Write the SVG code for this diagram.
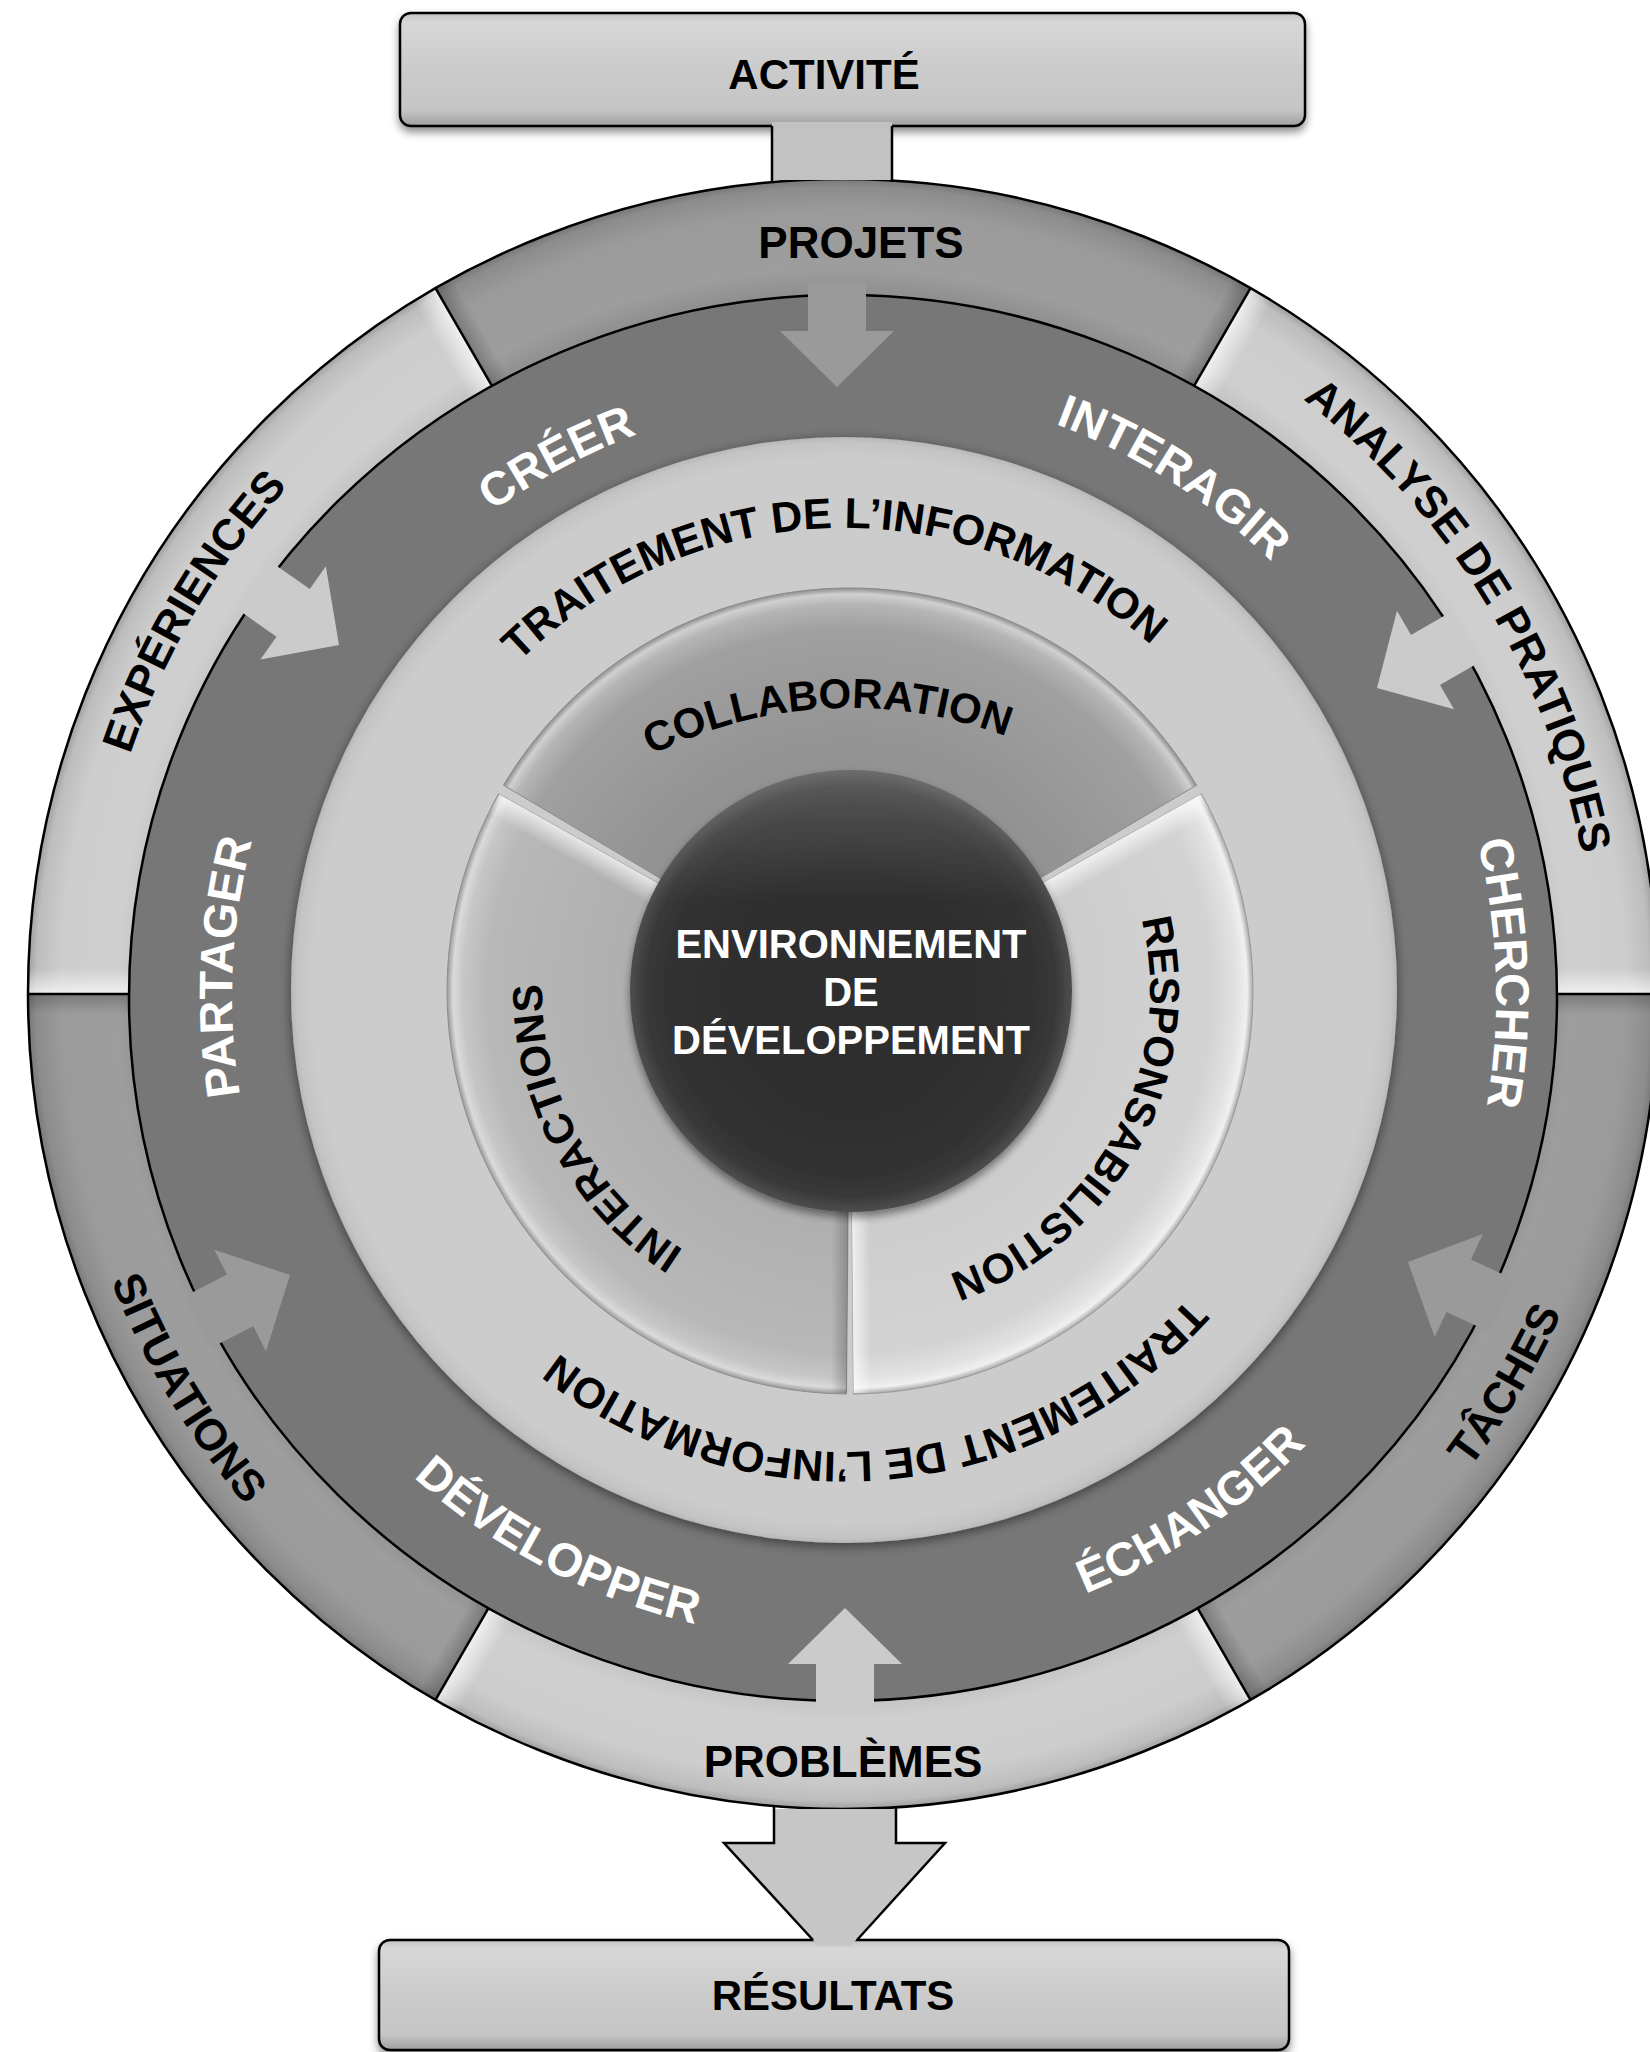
<svg xmlns="http://www.w3.org/2000/svg" width="1650" height="2052" viewBox="0 0 1650 2052">
<defs>
<style>
.t{font-family:'Liberation Sans',Arial,Helvetica,sans-serif;font-weight:700}
.ob{fill:#000;font-size:44px}
.dw{fill:#fff;font-size:47px}
.lt{fill:#000;font-size:43px}
.in{fill:#000;font-size:42px}
.cw{fill:#fff;font-size:40px;text-anchor:middle}
.bx{fill:#000;font-size:42px;text-anchor:middle}
.edge{stroke:#000;stroke-width:2.5;fill:none}
.awl{fill:#cbcbcb}
.awd{fill:#9a9a9a}
</style>
<linearGradient id="gbox" x1="0" y1="0" x2="0" y2="1">
<stop offset="0" stop-color="#c2c2c2"/><stop offset="0.08" stop-color="#d7d7d7"/><stop offset="0.5" stop-color="#cbcbcb"/><stop offset="0.86" stop-color="#c5c5c5"/><stop offset="1" stop-color="#9e9e9e"/>
</linearGradient>
<radialGradient id="gol" gradientUnits="userSpaceOnUse" cx="843" cy="994" r="815">
<stop offset="0.86" stop-color="#c2c2c2"/><stop offset="0.89" stop-color="#cfcfcf"/><stop offset="0.96" stop-color="#cdcdcd"/><stop offset="0.99" stop-color="#bdbdbd"/><stop offset="1" stop-color="#a0a0a0"/>
</radialGradient>
<radialGradient id="god" gradientUnits="userSpaceOnUse" cx="843" cy="994" r="815">
<stop offset="0.86" stop-color="#8f8f8f"/><stop offset="0.89" stop-color="#9d9d9d"/><stop offset="0.96" stop-color="#9b9b9b"/><stop offset="0.99" stop-color="#8c8c8c"/><stop offset="1" stop-color="#787878"/>
</radialGradient>
<radialGradient id="glr" gradientUnits="userSpaceOnUse" cx="844" cy="990" r="553">
<stop offset="0" stop-color="#cbcbcb"/><stop offset="0.96" stop-color="#cccccc"/><stop offset="0.99" stop-color="#c4c4c4"/><stop offset="1" stop-color="#b8b8b8"/>
</radialGradient>
<radialGradient id="gcoll" gradientUnits="userSpaceOnUse" cx="850" cy="991" r="403">
<stop offset="0" stop-color="#8a8a8a"/><stop offset="0.6" stop-color="#939393"/><stop offset="0.9" stop-color="#a0a0a0"/><stop offset="0.96" stop-color="#b5b5b5"/><stop offset="0.985" stop-color="#d0d0d0"/><stop offset="1" stop-color="#8e8e8e"/>
</radialGradient>
<radialGradient id="gresp" gradientUnits="userSpaceOnUse" cx="850" cy="991" r="403">
<stop offset="0" stop-color="#c8c8c8"/><stop offset="0.6" stop-color="#cdcdcd"/><stop offset="0.9" stop-color="#d3d3d3"/><stop offset="0.96" stop-color="#e2e2e2"/><stop offset="0.985" stop-color="#f0f0f0"/><stop offset="1" stop-color="#a9a9a9"/>
</radialGradient>
<radialGradient id="gint" gradientUnits="userSpaceOnUse" cx="850" cy="991" r="403">
<stop offset="0" stop-color="#a8a8a8"/><stop offset="0.6" stop-color="#b0b0b0"/><stop offset="0.9" stop-color="#b8b8b8"/><stop offset="0.96" stop-color="#c6c6c6"/><stop offset="0.985" stop-color="#dadada"/><stop offset="1" stop-color="#9a9a9a"/>
</radialGradient>
<radialGradient id="gcen" cx="0.5" cy="0.5" r="0.5">
<stop offset="0" stop-color="#2d2d2d"/><stop offset="0.8" stop-color="#303030"/><stop offset="0.93" stop-color="#393939"/><stop offset="1" stop-color="#4e4e4e"/>
</radialGradient>
<linearGradient id="ghl" x1="0" y1="0" x2="0" y2="1">
<stop offset="0" stop-color="#fff" stop-opacity="0.18"/><stop offset="0.3" stop-color="#fff" stop-opacity="0"/>
</linearGradient>
<linearGradient id="hlR" x1="0" y1="0" x2="1" y2="0">
<stop offset="0" stop-color="#fff" stop-opacity="0.7"/><stop offset="1" stop-color="#fff" stop-opacity="0"/>
</linearGradient>
<linearGradient id="hlL" x1="1" y1="0" x2="0" y2="0">
<stop offset="0" stop-color="#fff" stop-opacity="0.7"/><stop offset="1" stop-color="#fff" stop-opacity="0"/>
</linearGradient>
<linearGradient id="dkR" x1="0" y1="0" x2="1" y2="0">
<stop offset="0" stop-color="#000" stop-opacity="0.22"/><stop offset="1" stop-color="#000" stop-opacity="0"/>
</linearGradient>
<linearGradient id="dkL" x1="1" y1="0" x2="0" y2="0">
<stop offset="0" stop-color="#000" stop-opacity="0.22"/><stop offset="1" stop-color="#000" stop-opacity="0"/>
</linearGradient>
<filter id="sh" x="-10%" y="-20%" width="120%" height="150%">
<feDropShadow dx="0" dy="5" stdDeviation="4" flood-color="#000" flood-opacity="0.45"/>
</filter>
<filter id="rsh" x="-5%" y="-5%" width="110%" height="112%">
<feDropShadow dx="0" dy="3" stdDeviation="6" flood-color="#000" flood-opacity="0.5"/>
</filter>
<path id="arr" d="M0,0 L57,-56 L29,-56 L29,-104 L-29,-104 L-29,-56 L-57,-56 Z"/>
<path id="p-analyse" d="M823.3,242.3 A752,752 0 0 1 1503.9,1352.8"/>
<path id="p-exp" d="M188.5,1364.3 A752,752 0 0 1 849.6,242.0"/>
<path id="p-sit" d="M155.5,612.9 A786,786 0 0 0 856.7,1779.9"/>
<path id="p-tach" d="M836.1,1780.0 A786,786 0 0 0 1527.1,607.0"/>
<path id="p-creer" d="M245.4,975.1 A598,598 0 0 1 1159.9,488.9"/>
<path id="p-inter" d="M561.3,454.9 A610,610 0 0 1 1452.4,1022.6"/>
<path id="p-cherch" d="M1149.6,419.4 A653,653 0 0 1 1189.0,1549.8"/>
<path id="p-echang" d="M560.3,1575.7 A645,645 0 0 0 1486.4,951.0"/>
<path id="p-devel" d="M198.6,1024.1 A645,645 0 0 0 1189.6,1540.0"/>
<path id="p-partag" d="M512.9,1510.2 A611,611 0 0 1 562.8,453.1"/>
<path id="p-trt1" d="M394.8,882.1 A462,462 0 0 1 1287.0,858.8"/>
<path id="p-trt2" d="M1299.0,1070.2 A462,462 0 0 1 409.9,1148.0"/>
<path id="p-coll" d="M548.6,826.7 A442,442 0 0 1 1116.0,797.0"/>
<path id="p-resp" d="M1105.8,834.2 A300,300 0 0 1 857.9,1290.9"/>
<path id="p-intc" d="M839.3,1298.8 A308,308 0 0 1 588.8,827.8"/>
</defs>

<g id="node-activite">
<rect x="400" y="13" width="905" height="113" rx="11" fill="url(#gbox)" stroke="#000" stroke-width="2.5" filter="url(#sh)"/>
<text class="t bx" x="824" y="89">ACTIVITÉ</text>
</g>

<g id="node-resultats">
<rect x="379" y="1940" width="910" height="110" rx="11" fill="url(#gbox)" stroke="#000" stroke-width="2.5" filter="url(#sh)"/>
<text class="t bx" x="833" y="2010">RÉSULTATS</text>
</g>

<g id="node-projets">
<path d="M843,994 L435.5,288.2 A815,815 0 0 1 1250.5,288.2 Z" fill="url(#god)"/>
<text class="t ob" x="861" y="258" text-anchor="middle" font-size="42">PROJETS</text>
</g>
<g id="node-analyse">
<path d="M843,994 L1250.5,288.2 A815,815 0 0 1 1658,994 Z" fill="url(#gol)"/>
<text class="t ob"><textPath href="#p-analyse" startOffset="50%" text-anchor="middle">ANALYSE DE PRATIQUES</textPath></text>
</g>
<g id="node-taches">
<path d="M843,994 L1658,994 A815,815 0 0 1 1250.5,1699.8 Z" fill="url(#god)"/>
<text class="t ob"><textPath href="#p-tach" startOffset="50%" text-anchor="middle">TÂCHES</textPath></text>
</g>
<g id="node-problemes">
<path d="M843,994 L1250.5,1699.8 A815,815 0 0 1 435.5,1699.8 Z" fill="url(#gol)"/>
<text class="t ob" x="843" y="1777" text-anchor="middle" font-size="42">PROBLÈMES</text>
</g>
<g id="node-situations">
<path d="M843,994 L435.5,1699.8 A815,815 0 0 1 28,994 Z" fill="url(#god)"/>
<text class="t ob"><textPath href="#p-sit" startOffset="50%" text-anchor="middle">SITUATIONS</textPath></text>
</g>
<g id="node-experiences">
<path d="M843,994 L28,994 A815,815 0 0 1 435.5,288.2 Z" fill="url(#gol)"/>
<text class="t ob"><textPath href="#p-exp" startOffset="50%" text-anchor="middle">EXPÉRIENCES</textPath></text>
</g>

<g id="outer-ring-bevels">
<g transform="translate(843,994) rotate(30)"><rect x="0" y="-814" width="26" height="120" fill="url(#hlR)"/><rect x="-20" y="-814" width="20" height="120" fill="url(#dkL)"/></g>
<g transform="translate(843,994) rotate(90)"><rect x="-26" y="-814" width="26" height="120" fill="url(#hlL)"/><rect x="0" y="-814" width="20" height="120" fill="url(#dkR)"/></g>
<g transform="translate(843,994) rotate(150)"><rect x="0" y="-814" width="26" height="120" fill="url(#hlR)"/><rect x="-20" y="-814" width="20" height="120" fill="url(#dkL)"/></g>
<g transform="translate(843,994) rotate(210)"><rect x="-26" y="-814" width="26" height="120" fill="url(#hlL)"/><rect x="0" y="-814" width="20" height="120" fill="url(#dkR)"/></g>
<g transform="translate(843,994) rotate(270)"><rect x="0" y="-814" width="26" height="120" fill="url(#hlR)"/><rect x="-20" y="-814" width="20" height="120" fill="url(#dkL)"/></g>
<g transform="translate(843,994) rotate(330)"><rect x="-26" y="-814" width="26" height="120" fill="url(#hlL)"/><rect x="0" y="-814" width="20" height="120" fill="url(#dkR)"/></g>
</g>

<g id="outer-ring-frame" class="edge">
<line x1="1250.5" y1="288.2" x2="1188" y2="396.4"/>
<line x1="1658" y1="994" x2="1533" y2="994"/>
<line x1="1250.5" y1="1699.8" x2="1188" y2="1591.6"/>
<line x1="435.5" y1="1699.8" x2="498" y2="1591.6"/>
<line x1="28" y1="994" x2="153" y2="994"/>
<line x1="435.5" y1="288.2" x2="498" y2="396.4"/>
<circle cx="843" cy="994" r="815"/>
</g>

<g id="node-actions-ring">
<ellipse cx="843" cy="998" rx="714" ry="703" fill="#777777" stroke="#000" stroke-width="2.5"/>
<text class="t dw"><textPath href="#p-creer" startOffset="50%" text-anchor="middle">CRÉER</textPath></text>
<text class="t dw"><textPath href="#p-inter" startOffset="50%" text-anchor="middle">INTERAGIR</textPath></text>
<text class="t dw" font-size="49"><textPath href="#p-cherch" startOffset="50%" text-anchor="middle">CHERCHER</textPath></text>
<text class="t dw"><textPath href="#p-echang" startOffset="50%" text-anchor="middle">ÉCHANGER</textPath></text>
<text class="t dw"><textPath href="#p-devel" startOffset="50%" text-anchor="middle">DÉVELOPPER</textPath></text>
<text class="t dw"><textPath href="#p-partag" startOffset="50%" text-anchor="middle">PARTAGER</textPath></text>
</g>

<g id="node-traitement">
<circle cx="844" cy="990" r="553" fill="url(#glr)" filter="url(#rsh)"/>
<text class="t lt"><textPath href="#p-trt1" startOffset="50%" text-anchor="middle">TRAITEMENT DE L’INFORMATION</textPath></text>
<text class="t lt"><textPath href="#p-trt2" startOffset="50%" text-anchor="middle">TRAITEMENT DE L’INFORMATION</textPath></text>
</g>

<g id="node-collaboration">
<path d="M850,991 L503.5,785.2 A403,403 0 0 1 1196.5,785.2 Z" fill="url(#gcoll)" stroke="#8a8a8a" stroke-width="1"/>
<text class="t in"><textPath href="#p-coll" startOffset="50%" text-anchor="middle">COLLABORATION</textPath></text>
</g>
<g id="node-responsabilisation">
<path d="M850,991 L1201.4,793.8 A403,403 0 0 1 853.5,1394.0 Z" fill="url(#gresp)" stroke="#999" stroke-width="1"/>
<g transform="translate(850,991) rotate(60.7)"><rect x="0" y="-402" width="22" height="190" fill="url(#hlR)"/></g>
<g transform="translate(850,991) rotate(179.5)"><rect x="-18" y="-402" width="18" height="190" fill="url(#hlL)"/></g>
<text class="t in" font-size="44"><textPath href="#p-resp" startOffset="50%" text-anchor="middle">RESPONSABILISTION</textPath></text>
</g>
<g id="node-interactions">
<path d="M850,991 L846.5,1394.0 A403,403 0 0 1 498.6,793.8 Z" fill="url(#gint)" stroke="#8e8e8e" stroke-width="1"/>
<g transform="translate(850,991) rotate(299.3)"><rect x="-22" y="-402" width="22" height="190" fill="url(#hlL)"/></g>
<g transform="translate(850,991) rotate(180.5)"><rect x="0" y="-402" width="16" height="190" fill="url(#dkR)"/></g>
<text class="t in" font-size="43"><textPath href="#p-intc" startOffset="50%" text-anchor="middle">INTERACTIONS</textPath></text>
</g>

<g id="node-environnement">
<circle cx="851" cy="991" r="221" fill="url(#gcen)" filter="url(#sh)"/>
<circle cx="851" cy="991" r="221" fill="url(#ghl)"/>
<text class="t cw" x="851" y="958">ENVIRONNEMENT</text>
<text class="t cw" x="851" y="1006">DE</text>
<text class="t cw" x="851" y="1054">DÉVELOPPEMENT</text>
</g>

<g id="connectors">
<rect x="772" y="122" width="120" height="58" fill="#c2c2c2"/>
<line class="edge" x1="772" y1="126" x2="772" y2="182"/>
<line class="edge" x1="892" y1="126" x2="892" y2="182"/>
<polygon points="774,1809 896,1809 896,1843 945,1843 850.5,1946 818.5,1946 724,1843 774,1843" fill="#c6c6c6"/>
<polyline class="edge" points="774,1807 774,1843 724,1843 813,1940"/>
<polyline class="edge" points="896,1807 896,1843 945,1843 857,1940"/>
<use href="#arr" class="awd" transform="translate(837,387) rotate(0)"/>
<use href="#arr" class="awl" transform="translate(1377,688) rotate(60)"/>
<use href="#arr" class="awd" transform="translate(1408,1262) rotate(115)"/>
<use href="#arr" class="awl" transform="translate(845,1608) rotate(180)"/>
<use href="#arr" class="awd" transform="translate(290,1275) rotate(243)"/>
<use href="#arr" class="awl" transform="translate(339,645) rotate(305)"/>
</g>
</svg>
